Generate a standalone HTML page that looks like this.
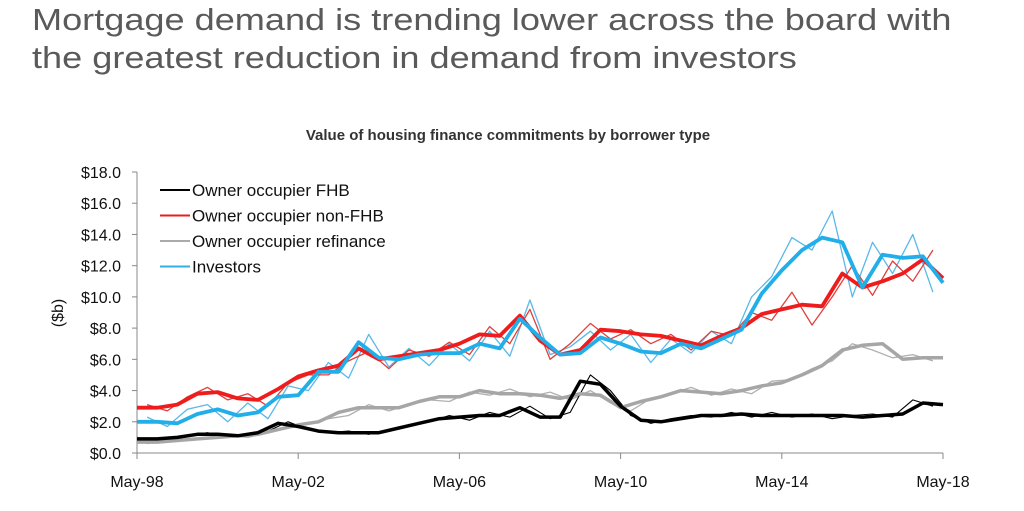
<!DOCTYPE html>
<html><head><meta charset="utf-8"><style>
body{margin:0;background:#fff;width:1024px;height:511px;overflow:hidden;font-family:"Liberation Sans",sans-serif}
.h{position:absolute;left:32px;font-size:31px;color:#5a5a5a;white-space:nowrap;transform:scaleX(1.165);transform-origin:0 0}
</style></head><body>
<div class="h" style="top:2px">Mortgage demand is trending lower across the board with</div>
<div class="h" style="top:40px">the greatest reduction in demand from investors</div>
<svg id="c" width="1024" height="511" style="position:absolute;left:0;top:0"></svg>
<script>
const trendT=[0,.5,1,1.5,2,2.5,3,3.5,4,4.5,5,5.5,6,6.5,7,7.5,8,8.5,9,9.5,10,10.5,11,11.5,12,12.5,13,13.5,14,14.5,15,15.5,16,16.5,17,17.5,18,18.5,19,19.5,20];
const redTrend=[2.9,2.9,3.1,3.8,3.9,3.5,3.4,4.1,4.9,5.3,5.6,6.7,6.0,6.2,6.4,6.6,7.0,7.6,7.5,8.8,7.2,6.3,6.6,7.9,7.8,7.6,7.5,7.2,6.9,7.5,8.0,8.9,9.2,9.5,9.4,11.5,10.6,11.0,11.5,12.4,11.2];
const blueTrend=[2.0,2.0,1.9,2.5,2.8,2.4,2.6,3.6,3.7,5.2,5.2,7.1,6.1,6.0,6.3,6.4,6.4,7.0,6.7,8.6,7.4,6.3,6.4,7.4,7.0,6.5,6.4,7.0,6.7,7.3,7.9,10.2,11.7,13.0,13.8,13.5,10.6,12.7,12.5,12.6,10.9];
const grayTrend=[0.7,0.7,0.8,0.9,1.0,1.1,1.2,1.5,1.8,2.0,2.6,2.9,2.9,2.9,3.3,3.6,3.6,4.0,3.8,3.8,3.7,3.5,3.8,3.7,2.9,3.3,3.6,4.0,3.9,3.8,4.0,4.3,4.5,5.0,5.6,6.6,6.9,7.0,6.0,6.1,6.1];
const blackTrend=[0.9,0.9,1.0,1.2,1.2,1.1,1.3,1.9,1.7,1.4,1.3,1.3,1.3,1.6,1.9,2.2,2.3,2.4,2.4,2.9,2.3,2.3,4.6,4.4,3.0,2.1,2.0,2.2,2.4,2.4,2.5,2.4,2.4,2.4,2.4,2.4,2.3,2.4,2.5,3.2,3.1];
const rawT=[.25,.75,1.25,1.75,2.25,2.75,3.25,3.75,4.25,4.75,5.25,5.75,6.25,6.75,7.25,7.75,8.25,8.75,9.25,9.75,10.25,10.75,11.25,11.75,12.25,12.75,13.25,13.75,14.25,14.75,15.25,15.75,16.25,16.75,17.25,17.75,18.25,18.75,19.25,19.75];
const redRaw=[3.1,2.7,3.6,4.2,3.4,3.8,3.0,4.5,5.0,5.0,5.9,6.5,5.4,6.6,6.2,7.1,6.3,8.1,7.0,9.2,6.0,7.0,8.3,7.3,7.9,7.0,7.6,6.6,7.8,7.5,9.0,8.5,10.3,8.2,10.0,12.0,10.1,12.3,11.0,13.0];
const blueRaw=[2.3,1.7,2.8,3.1,2.0,3.2,2.2,4.3,4.0,5.8,4.8,7.6,5.5,6.7,5.6,7.0,5.9,7.8,6.2,9.8,6.3,6.8,7.8,6.6,7.6,5.8,7.3,6.4,7.8,7.0,10.0,11.3,13.8,13.0,15.5,10.0,13.5,11.5,14.0,10.3];
const grayRaw=[0.6,0.8,0.8,1.0,1.1,1.0,1.3,1.7,1.9,2.2,2.4,3.1,2.7,3.1,3.4,3.3,3.9,3.7,4.1,3.6,3.9,3.4,4.0,3.2,2.7,3.5,3.8,4.2,3.7,4.1,3.8,4.6,4.7,5.4,5.9,7.0,6.6,6.1,6.3,5.9];
const blackRaw=[0.9,1.0,1.1,1.3,1.0,1.2,1.4,2.0,1.5,1.3,1.4,1.2,1.5,1.8,2.0,2.4,2.1,2.6,2.3,3.0,2.2,2.6,5.0,4.0,2.4,1.9,2.2,2.4,2.3,2.6,2.3,2.6,2.3,2.5,2.2,2.4,2.5,2.3,3.4,3.0];
const yTicks=[0,2,4,6,8,10,12,14,16,18];
const xTickT=[0,4,8,12,16,20];
const xTickLabels=["May-98","May-02","May-06","May-10","May-14","May-18"];
const legendNames=["Owner occupier FHB","Owner occupier non-FHB","Owner occupier refinance","Investors"];
const legendColors=["#000","#e8201c","#aaa","#33aee6"];

const X0=137,X1=943,Y0=453,Y18=172;
const xs=t=>X0+(X1-X0)*t/20, ys=v=>Y0-(Y0-Y18)*v/18;
const svg=document.getElementById('c'),NS="http://www.w3.org/2000/svg";
function el(tag,attrs,parent){const e=document.createElementNS(NS,tag);for(const k in attrs)e.setAttribute(k,attrs[k]);(parent||svg).appendChild(e);return e;}
let t=el('text',{x:508,y:140,'text-anchor':'middle','font-size':15,'font-weight':'bold',fill:'#333'});t.textContent="Value of housing finance commitments by borrower type";

let a=el('line',{x1:X0,y1:Y18,x2:X0,y2:Y0,stroke:'#888','stroke-width':1});

a=el('line',{x1:X0,y1:Y0,x2:X1,y2:Y0,stroke:'#888','stroke-width':1});

yTicks.forEach(v=>{const y=ys(v);el('line',{x1:X0-5,y1:y,x2:X0,y2:y,stroke:'#888'});
 const l=el('text',{x:121,y:y+6,'text-anchor':'end','font-size':16,fill:'#111'});l.textContent='$'+v.toFixed(1);
 });
xTickT.forEach((tt,i)=>{const x=xs(tt);el('line',{x1:x,y1:Y0,x2:x,y2:Y0+6,stroke:'#888'});
 const l=el('text',{x:x,y:487,'text-anchor':'middle','font-size':16,fill:'#111'});l.textContent=xTickLabels[i];
 });
t=el('text',{x:0,y:0,transform:'translate(63,313) rotate(-90)','text-anchor':'middle','font-size':16,fill:'#111'});t.textContent="($b)";

function line(T,V,c,w,name){const d=T.map((tt,i)=>(i?'L':'M')+xs(tt).toFixed(1)+','+ys(V[i]).toFixed(1)).join('');
 const p=el('path',{d:d,fill:'none',stroke:c,'stroke-width':w,'stroke-linejoin':'round'});
 }
line(rawT,grayRaw,'#b0b0b0',1.3,'refinance-raw-line');
line(rawT,blackRaw,'#000',1.1,'fhb-raw-line');
line(rawT,blueRaw,'#5ab8e8',1.3,'investors-raw-line');
line(rawT,redRaw,'#e0403c',1.3,'non-fhb-raw-line');
line(trendT,grayTrend,'#a6a6a6',3.5,'refinance-trend-line');
line(trendT,blackTrend,'#000',3.5,'fhb-trend-line');
line(trendT,redTrend,'#ee1c1c',3.8,'non-fhb-trend-line');
line(trendT,blueTrend,'#22aee8',3.8,'investors-trend-line');
legendNames.forEach((n,i)=>{const y=190+i*25.5;const g=el('g',{});
 
 el('line',{x1:160,y1:y,x2:190,y2:y,stroke:legendColors[i],'stroke-width':2},g);
 const l=el('text',{x:192,y:y+6,'font-size':17,fill:'#111'},g);l.textContent=n;});
</script>
</body></html>
